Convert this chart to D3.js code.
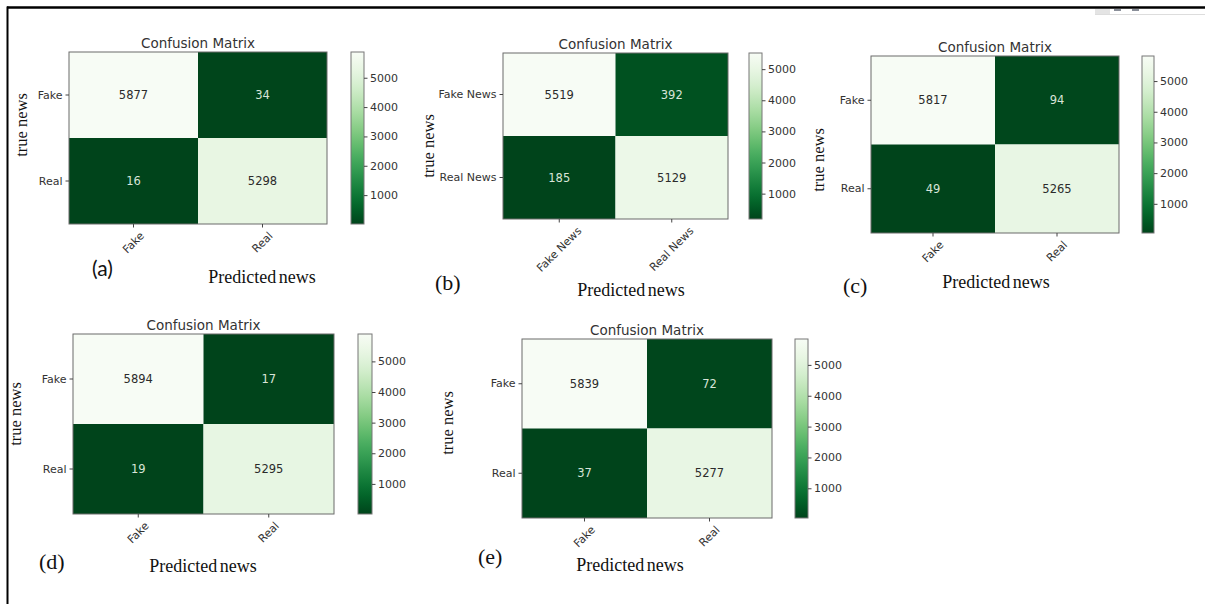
<!DOCTYPE html>
<html>
<head>
<meta charset="utf-8">
<script src="https://cdn.jsdelivr.net/npm/d3@7"></script>
<style>
  html, body { margin: 0; padding: 0; background: #fff; }
  svg { display: block; }
</style>
</head>
<body>
<svg id="fig" width="1205" height="604"></svg>
<script>
// Category labels, per-model confusion counts (row-major: true × predicted) and colorbar ticks
const categoriesShort = ["Fake", "Real"];
const categoriesLong = ["Fake News", "Real News"];
const panelTags = ["(a)", "(b)", "(c)", "(d)", "(e)"];
const countsA = [5877, 34, 16, 5298];
const countsB = [5519, 392, 185, 5129];
const countsC = [5817, 94, 49, 5265];
const countsD = [5894, 17, 19, 5295];
const countsE = [5839, 72, 37, 5277];
const colorbarTicks = [1000, 2000, 3000, 4000, 5000];
const chartTitle = "Confusion Matrix";
const xAxisTitle = "Predicted news";
const yAxisTitle = "true news";

// Placement of each panel on the page
const layout = [
  { counts: countsA, cats: categoriesShort, box: [69, 327, 52, 224], cb: [351, 364], yt: [21, 125], tag: [92, 276, "sans"], xt: [262, 283] },
  { counts: countsB, cats: categoriesLong,  box: [503, 728, 53, 219], cb: [749, 762], yt: [428, 146], tag: [435, 290, "serif"], xt: [631, 296] },
  { counts: countsC, cats: categoriesShort, box: [871, 1119, 56, 233], cb: [1142, 1154], yt: [818, 160], tag: [843, 293, "serif"], xt: [996, 288] },
  { counts: countsD, cats: categoriesShort, box: [73, 334, 334, 514], cb: [358, 372], yt: [15, 414], tag: [39, 569, "serif"], xt: [203, 572] },
  { counts: countsE, cats: categoriesShort, box: [522, 772, 339, 518], cb: [795, 808], yt: [447, 423], tag: [478, 564, "serif"], xt: [630, 571] }
];

const svg = d3.select("#fig");
const sansFont = "'DejaVu Sans', sans-serif";
const serifFont = "'Liberation Serif', 'DejaVu Serif', serif";

// Shared vertical gradient for the colorbars (Greens, dark at the bottom)
const defs = svg.append("defs");
const grad = defs.append("linearGradient")
  .attr("id", "greensBar").attr("x1", 0).attr("y1", 1).attr("x2", 0).attr("y2", 0);
d3.range(0, 1.0001, 0.05).forEach(t => {
  grad.append("stop").attr("offset", t).attr("stop-color", d3.interpolateGreens(1 - t));
});

// Page frame
svg.append("line").attr("x1", 7).attr("x2", 1205).attr("y1", 7.5).attr("y2", 7.5)
  .attr("stroke", "#000").attr("stroke-width", 2.5);
svg.append("line").attr("x1", 7.5).attr("x2", 7.5).attr("y1", 6.5).attr("y2", 604)
  .attr("stroke", "#000").attr("stroke-width", 2);
// faint toolbar remnant at the top right
svg.append("line").attr("x1", 1095).attr("x2", 1205).attr("y1", 14.5).attr("y2", 14.5)
  .attr("stroke", "#ddd").attr("stroke-width", 1);
svg.append("rect").attr("x", 1095).attr("y", 9).attr("width", 15).attr("height", 5).attr("fill", "#e4e4e4");
svg.append("rect").attr("x", 1114).attr("y", 9).attr("width", 7).attr("height", 2).attr("fill", "#8a8f99");
svg.append("rect").attr("x", 1132).attr("y", 9).attr("width", 7).attr("height", 2).attr("fill", "#8a8f99");

layout.forEach((p, i) => {
  const [x0, x1, y0, y1] = p.box;
  const vals = p.counts;
  const vmin = d3.min(vals), vmax = d3.max(vals);
  const color = v => d3.interpolateGreens(1 - (v - vmin) / (vmax - vmin));

  const xs = d3.scaleBand().domain(p.cats).range([x0, x1]).padding(0);
  const ys = d3.scaleBand().domain(p.cats).range([y0, y1]).padding(0);

  const g = svg.append("g");

  // heatmap cells
  const cells = [];
  p.cats.forEach((r, ri) => p.cats.forEach((c, ci) => cells.push({ r, c, v: vals[ri * 2 + ci] })));
  g.selectAll("rect.cell").data(cells).join("rect")
    .attr("class", "cell")
    .attr("x", d => xs(d.c)).attr("y", d => ys(d.r))
    .attr("width", xs.bandwidth()).attr("height", ys.bandwidth())
    .attr("fill", d => color(d.v));

  g.selectAll("text.val").data(cells).join("text")
    .attr("class", "val")
    .attr("x", d => xs(d.c) + xs.bandwidth() / 2)
    .attr("y", d => ys(d.r) + ys.bandwidth() / 2)
    .attr("text-anchor", "middle").attr("dominant-baseline", "central")
    .attr("font-family", sansFont).attr("font-size", 11.5)
    .attr("fill", d => d.v > (vmin + vmax) / 2 ? "#2b2b2b" : "#d8e4d8")
    .text(d => d.v);

  // spine
  g.append("rect").attr("x", x0).attr("y", y0).attr("width", x1 - x0).attr("height", y1 - y0)
    .attr("fill", "none").attr("stroke", "#6b6b6b").attr("stroke-width", 1);

  // title
  g.append("text").attr("x", (x0 + x1) / 2).attr("y", y0 - 4)
    .attr("text-anchor", "middle").attr("font-family", sansFont).attr("font-size", 13.5)
    .attr("fill", "#333").text(chartTitle);

  // y axis ticks
  const yAxis = g.append("g").attr("transform", `translate(${x0},0)`)
    .call(d3.axisLeft(ys).tickSize(3.5).tickPadding(3));
  yAxis.select(".domain").remove();
  yAxis.selectAll("line").attr("stroke", "#444");
  yAxis.selectAll("text").attr("font-family", sansFont).attr("font-size", 11).attr("fill", "#333");

  // x axis ticks with labels rotated 45°, centred under each tick
  const xAxis = g.append("g").attr("transform", `translate(0,${y1})`)
    .call(d3.axisBottom(xs).tickSize(3.5).tickFormat(""));
  xAxis.select(".domain").remove();
  xAxis.selectAll("line").attr("stroke", "#444");
  p.cats.forEach(c => {
    const t = g.append("text")
      .attr("font-family", sansFont).attr("font-size", 11).attr("fill", "#333")
      .attr("text-anchor", "middle").attr("dominant-baseline", "central")
      .text(c);
    const w = t.node().getComputedTextLength();
    const h = 11 * 1.05;
    const half = (w * Math.SQRT1_2 + h * Math.SQRT1_2) / 2;
    t.attr("transform", `translate(${xs(c) + xs.bandwidth() / 2},${y1 + 6 + half}) rotate(-45)`);
  });

  // colorbar
  const [cx0, cx1] = p.cb;
  g.append("rect").attr("x", cx0).attr("y", y0).attr("width", cx1 - cx0).attr("height", y1 - y0)
    .attr("fill", "url(#greensBar)").attr("stroke", "#777").attr("stroke-width", 1);
  const cs = d3.scaleLinear().domain([vmin, vmax]).range([y1, y0]);
  const cAxis = g.append("g").attr("transform", `translate(${cx1},0)`)
    .call(d3.axisRight(cs).tickValues(colorbarTicks).tickSize(3.5).tickPadding(2.5).tickFormat(d3.format("d")));
  cAxis.select(".domain").remove();
  cAxis.selectAll("line").attr("stroke", "#444");
  cAxis.selectAll("text").attr("font-family", sansFont).attr("font-size", 11).attr("fill", "#333");

  // axis titles and panel tag
  g.append("text").attr("transform", `translate(${p.yt[0]},${p.yt[1]}) rotate(-90)`)
    .attr("text-anchor", "middle").attr("dominant-baseline", "central")
    .attr("font-family", serifFont).attr("font-size", 16.5).attr("fill", "#111")
    .text(yAxisTitle);
  g.append("text").attr("x", p.xt[0]).attr("y", p.xt[1])
    .attr("text-anchor", "middle").attr("font-family", serifFont).attr("font-size", 18)
    .attr("word-spacing", -2).attr("fill", "#111")
    .text(xAxisTitle);
  g.append("text").attr("x", p.tag[0]).attr("y", p.tag[1])
    .attr("font-family", p.tag[2] === "sans" ? "Lato, 'Open Sans', sans-serif" : serifFont)
    .attr("font-size", p.tag[2] === "sans" ? 21 : 22).attr("fill", "#111")
    .text(panelTags[i]);
});
</script>
</body>
</html>
